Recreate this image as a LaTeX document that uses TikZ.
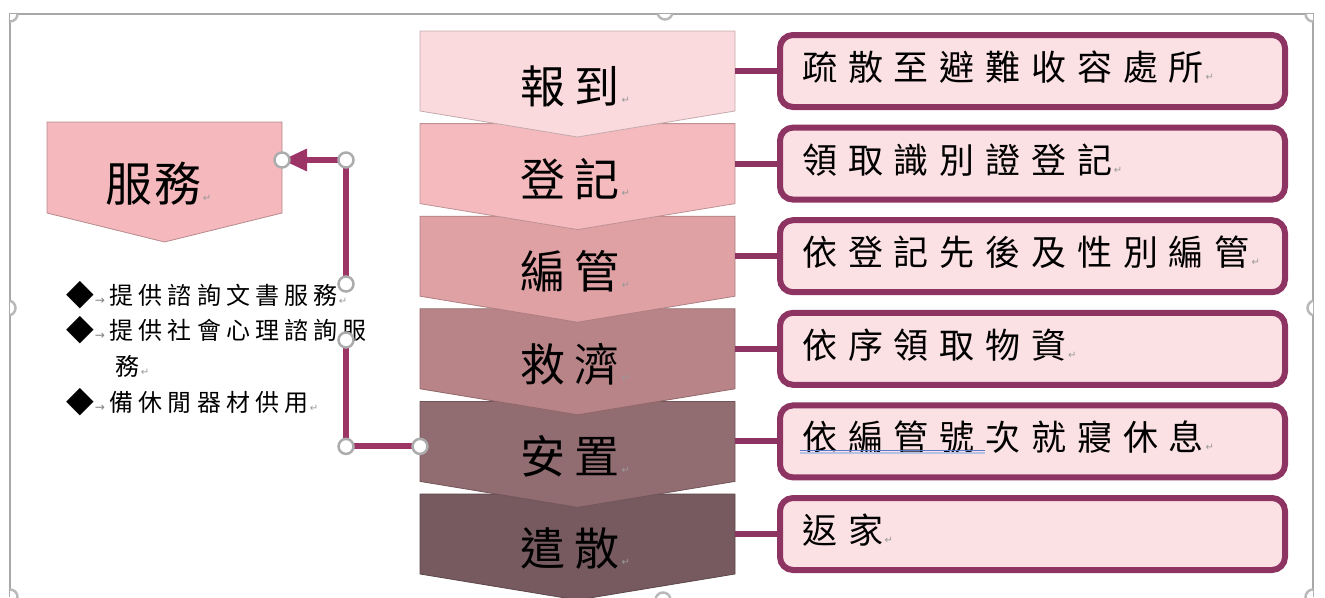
\documentclass[tikz,border=0pt]{standalone}
\usepackage{fontspec}
\newfontfamily\cjkA[LetterSpace=20]{Noto Sans CJK TC}
\newfontfamily\cjkB[LetterSpace=31]{Noto Sans CJK TC}
\newfontfamily\cjkC[LetterSpace=21]{Noto Sans CJK TC}
\newfontfamily\cjkD[LetterSpace=3]{Noto Sans CJK TC}
\newfontfamily\symfont{DejaVu Sans}
\usetikzlibrary{calc,arrows.meta}
\definecolor{cA}{HTML}{FBDADD}
\definecolor{cB}{HTML}{F4BABE}
\definecolor{cC}{HTML}{DFA1A4}
\definecolor{cD}{HTML}{B98487}
\definecolor{cE}{HTML}{916D72}
\definecolor{cF}{HTML}{765A5F}
\definecolor{servfill}{HTML}{F4B8BD}
\definecolor{boxfill}{HTML}{FCE1E4}
\definecolor{boxline}{HTML}{8E3463}
\definecolor{elbow}{HTML}{9C3566}
\definecolor{framegray}{HTML}{A8A8A8}
\definecolor{ulblue}{HTML}{5A78C8}
\newcommand{\parmark}{{\symfont\fontsize{10}{10}\selectfont\color{gray!80}\,↵}}
\newcommand{\bul}{{\symfont\fontsize{36}{36}\selectfont ◆}\hspace{1pt}{\symfont\fontsize{12}{12}\selectfont\color{gray}→}\hspace{5pt}}
\tikzset{
  chevbox/.style={rectangle, minimum width=315pt, minimum height=80pt, inner sep=0pt, outer sep=0pt},
  chevlabel/.style={inner sep=0pt, font=\cjkA\fontsize{45}{45}\selectfont},
  rbox/.style={rectangle, rounded corners=13pt, draw=boxline, fill=boxfill, line width=6pt, minimum width=505pt, minimum height=72pt, inner sep=0pt, outer sep=0pt},
  rtext/.style={anchor=west, inner sep=0pt, font=\cjkB\fontsize{35}{35}\selectfont},
  link/.style={draw=boxline, line width=6pt},
  elbowline/.style={draw=elbow, line width=6pt},
  handle/.style={circle, draw=gray!65, fill=white, line width=2.5pt, minimum size=15pt, inner sep=0pt},
  bultext/.style={anchor=west, inner sep=0pt, font=\cjkC\fontsize{24}{24}\selectfont},
  framestyle/.style={draw=framegray, line width=1.5pt},
}
\begin{document}
\begin{tikzpicture}[x=1pt, y=-1pt]
\useasboundingbox (0,0) rectangle (1325,597);
% frame
\draw[framestyle] (10,597) -- (10,14) -- (1313,14) -- (1313,597);
% chevrons, drawn bottom-up so upper tips overlay lower ones
\foreach \i/\col in {6/cF,5/cE,4/cD,3/cC,2/cB,1/cA}{
  \node[chevbox] (c\i) at (577.5, {31+92.6*(\i-1)+40}) {};
  \filldraw[fill=\col, draw=\col!78!black, line width=0.8pt]
    (c\i.north west) -- (c\i.north east) -- (c\i.south east)
    -- ($(c\i.south)+(0,26)$) -- (c\i.south west) -- cycle;
}
\foreach \i/\txt in {1/報到,2/登記,3/編管,4/救濟,5/安置,6/遣散}{
  \node[chevlabel] (t\i) at ([xshift=-2pt,yshift=-15pt]c\i.center) {\txt\parmark};
}
% right boxes
\foreach \i/\txt in {1/疏散至避難收容處所,2/領取識別證登記,3/依登記先後及性別編管,4/依序領取物資,5/依編管號次就寢休息,6/返家}{
  \node[rbox] (b\i) at (1032.5, {31+92.6*(\i-1)+40}) {};
  \draw[link] (c\i.east) -- (b\i.west);
  \node[rtext] (r\i) at ([xshift=22pt,yshift=4pt]b\i.west) {\txt\parmark};
}
% grammar underline
\draw[ulblue, line width=1.6pt] (800,450.5) -- (985,450.5);
\draw[ulblue!45, line width=1.2pt] (800,453) -- (985,453);
% service chevron
\node[chevbox, minimum width=235pt, minimum height=91pt] (serv) at (164.5,167.5) {};
\filldraw[fill=servfill, draw=servfill!75!black, line width=0.8pt]
  (serv.north west) -- (serv.north east) -- (serv.south east)
  -- ($(serv.south)+(0,29)$) -- (serv.south west) -- cycle;
\node[inner sep=0pt, font=\cjkD\fontsize{47}{47}\selectfont] (servtext) at ([xshift=-6pt,yshift=-16.5pt]serv.center) {服務\parmark};
% elbow connector
\coordinate (j2) at (346,160);
\draw[elbowline, -{Triangle[length=25pt,width=21pt]}]
  ([yshift=-5pt]c5.west) coordinate (e0) -- (e0 -| j2) coordinate (e1)
  -- (j2) -- (j2 -| serv.east) coordinate (e3);
% text box background hiding part of the connector
\fill[white] (333,289) rectangle (359,334);
% bullet list
\node[bultext] (l1) at (66,295) {\bul 提供諮詢文書服務\parmark};
\node[bultext] (l2) at (66,330) {\bul 提供社會心理諮詢服};
\node[bultext] (l3) at (115,366) {務\parmark};
\node[bultext] (l4) at (66,402) {\bul 備休閒器材供用\parmark};
% connector handles
\foreach \p in {e0,e1,j2,e3}{ \node[handle] at (\p) {}; }
\node[handle] (h1) at (346,284) {};
\node[handle] (h2) at (346,340) {};
% frame handles
\begin{scope}
  \clip (10,14) rectangle (1313,597);
  \foreach \p in {(10,14),(665,12),(1313,14),(8,308),(1315,308),(10,597),(663,600),(1313,597)}{
    \node[handle, draw=gray!55] at \p {};
  }
\end{scope}
\end{tikzpicture}
\end{document}
